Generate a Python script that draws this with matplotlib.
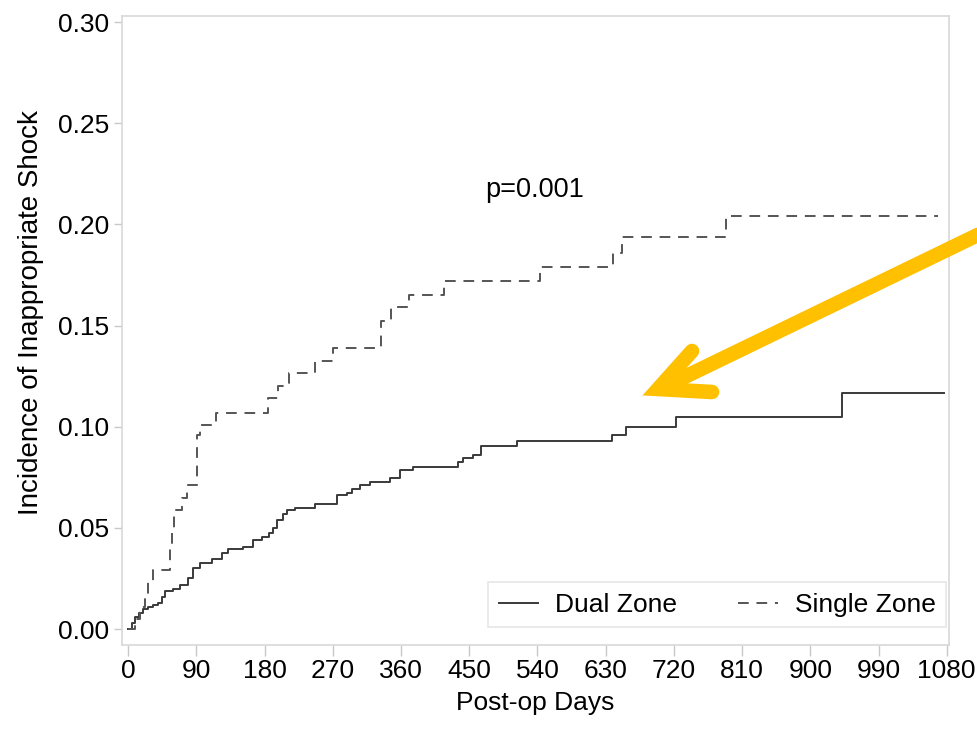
import matplotlib
matplotlib.use("Agg")
import matplotlib.pyplot as plt
from matplotlib.lines import Line2D

plt.rcParams['font.family'] = ['Liberation Sans', 'DejaVu Sans']

# ---- data ---- #
dual_days = [0, 5, 9, 15, 20, 26, 33, 40, 45, 49, 59, 69, 79, 86, 95, 111, 124, 132,
             152, 165, 177, 186, 191, 197, 204, 210, 220, 247, 276, 289, 295, 306, 319,
             346, 359, 376, 435, 442, 455, 466, 513, 638, 657, 723, 942, 1077]
dual_inc = [0.0, 0.003, 0.006, 0.008, 0.010, 0.011, 0.012, 0.013, 0.016, 0.019, 0.020,
            0.022, 0.025, 0.030, 0.0326, 0.0345, 0.0375, 0.0395, 0.0405, 0.044, 0.0455,
            0.0475, 0.050, 0.054, 0.057, 0.059, 0.060, 0.062, 0.066, 0.067, 0.069, 0.071,
            0.0727, 0.0746, 0.0786, 0.080, 0.0826, 0.0845, 0.086, 0.0905, 0.093, 0.096,
            0.0998, 0.1048, 0.1167, 0.1167]

single_days = [0, 9, 16, 22, 26, 33, 55, 58, 60, 71, 78, 91, 95, 116, 185, 198, 212,
               247, 271, 334, 347, 371, 417, 543, 640, 652, 789, 1068]
single_inc = [0.0, 0.005, 0.011, 0.017, 0.023, 0.029, 0.041, 0.050, 0.059, 0.065, 0.071,
              0.096, 0.101, 0.107, 0.114, 0.120, 0.1265, 0.1325, 0.139, 0.152, 0.159,
              0.165, 0.172, 0.179, 0.186, 0.194, 0.204, 0.204]

x_ticks = list(range(0, 1081, 90))
y_ticks = [0.00, 0.05, 0.10, 0.15, 0.20, 0.25, 0.30]

# ---- figure ---- #
W, H = 977, 731
fig = plt.figure(figsize=(W / 100, H / 100), dpi=100)
ax = fig.add_axes([122 / W, 1 - 645 / H, (949 - 122) / W, (645 - 16) / H])

ax.step(dual_days, dual_inc, where='post', color='#3a3a3a', lw=1.4, label='Dual Zone')
ax.step(single_days, single_inc, where='post', color='#555555', lw=1.4,
        dashes=(5.5, 4), label='Single Zone')

ax.set_xlim(-8, 1083)
ax.set_ylim(-0.0079, 0.303)
ax.set_xticks(x_ticks)
ax.set_yticks(y_ticks)
ax.set_yticklabels(['%.2f' % v for v in y_ticks])
ax.tick_params(axis='both', labelsize=19, color='#c8c8c8', labelcolor='black')
ax.tick_params(axis='x', length=8, width=1, pad=2)
ax.tick_params(axis='y', length=6, width=1, pad=3)
for sp in ax.spines.values():
    sp.set_color('#d8d8d8')
    sp.set_linewidth(1.2)

ax.set_xlabel('Post-op Days', fontsize=19, labelpad=6)
ax.set_ylabel('Incidence of Inappropriate Shock', fontsize=20)
ax.yaxis.set_label_coords(-0.0944, 0.529)

ax.text(537, 0.217, 'p=0.001', fontsize=19.5, ha='center', va='center')

leg = ax.legend(loc='lower right', bbox_to_anchor=(0.9965, 0.028), ncol=2, fontsize=19,
                frameon=True, fancybox=False, handlelength=1.5, columnspacing=2.3,
                handletextpad=0.65, borderpad=0.4, borderaxespad=0)
leg.get_frame().set_edgecolor('#e0e0e0')
leg.get_frame().set_linewidth(1.2)

# ---- yellow arrow (pixel layout) ---- #
def px(x, y):
    return x / W, 1 - y / H

arrow_col = '#FFC000'
shaft = [(990, 229), (668, 385)]
head = [(692, 351), (658, 389), (712, 392)]
fig.add_artist(Line2D(*zip(*[px(*p) for p in shaft]), color=arrow_col, lw=10.5,
                      solid_capstyle='round', transform=fig.transFigure))
fig.add_artist(Line2D(*zip(*[px(*p) for p in head]), color=arrow_col, lw=10.5,
                      solid_capstyle='round', solid_joinstyle='miter',
                      transform=fig.transFigure))

fig.savefig('out.png', dpi=100)
